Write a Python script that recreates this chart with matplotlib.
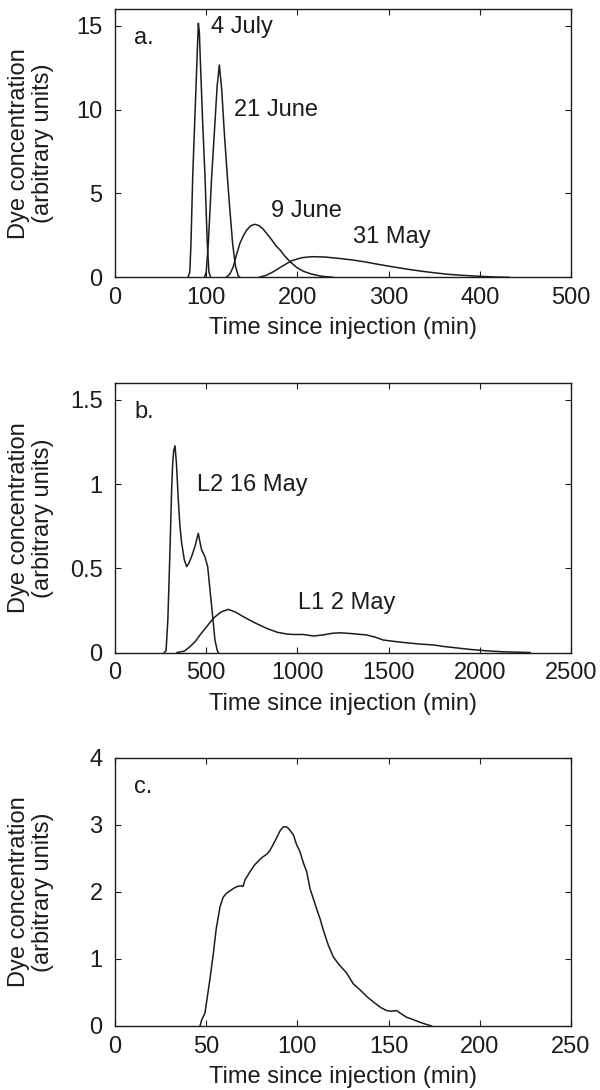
import matplotlib
matplotlib.use("Agg")
import matplotlib.pyplot as plt

plt.rcParams['font.family'] = ['Liberation Sans', 'DejaVu Sans']

# ---- Panel a data ----
jul4_t = [80, 82, 83.3, 85.2, 87, 89, 90.5, 91.4, 92.5, 94, 96, 98.7, 101.2, 103, 105]
jul4_y = [0, 0.3, 2.0, 6.0, 8.7, 11.6, 13.9, 15.15, 14.6, 12.3, 9.4, 6.0, 2.0, 0.3, 0]

jun21_t = [98, 100, 102.3, 106, 109, 112, 114.4, 117, 120, 123.2, 126, 129, 132, 135, 137]
jun21_y = [0, 0.3, 2.0, 6.0, 8.7, 11.4, 12.66, 11.2, 8.5, 6.0, 4.0, 2.0, 0.7, 0.1, 0]

jun9_t = [122, 126, 129.7, 133, 137, 141, 144.4, 149, 153.5, 158, 162, 166.3, 172, 177, 181, 186, 191.9, 199, 206.5, 215, 224.8, 232, 239]
jun9_y = [0, 0.2, 0.63, 1.3, 2.03, 2.5, 2.82, 3.08, 3.16, 3.08, 2.9, 2.62, 2.22, 1.85, 1.63, 1.28, 0.93, 0.6, 0.36, 0.2, 0.08, 0.03, 0]

may31_t = [158, 165, 173.6, 183, 193.7, 205, 215.7, 230, 245, 261, 275, 290, 305, 320, 335, 350, 365, 380, 400, 415, 432]
may31_y = [0, 0.1, 0.33, 0.65, 0.99, 1.17, 1.23, 1.21, 1.13, 1.03, 0.91, 0.76, 0.62, 0.49, 0.37, 0.27, 0.18, 0.12, 0.06, 0.02, 0]

# ---- Panel b data ----
l2_t = [270, 280, 290, 301.5, 310, 316, 322, 329, 337, 347, 356, 365.6, 380, 393, 405, 420, 438.6, 450, 456.8, 465, 475, 493, 508, 521, 535.5, 548, 561, 567]
l2_y = [0, 0.01, 0.2, 0.61, 0.95, 1.12, 1.2, 1.227, 1.12, 0.906, 0.75, 0.649, 0.55, 0.51, 0.53, 0.57, 0.63, 0.68, 0.708, 0.66, 0.609, 0.569, 0.51, 0.37, 0.213, 0.074, 0.01, 0]

l1_t = [340, 380, 411, 440, 466, 500, 539, 580, 621, 660, 703, 760, 832, 890, 941, 977.5, 1032, 1087, 1140, 1190, 1234, 1300, 1380, 1430, 1471, 1560, 1672, 1745, 1800, 1891, 1950, 2038, 2111, 2200, 2275]
l1_y = [0, 0.008, 0.035, 0.065, 0.104, 0.15, 0.203, 0.24, 0.256, 0.24, 0.213, 0.18, 0.143, 0.12, 0.11, 0.107, 0.107, 0.098, 0.104, 0.114, 0.117, 0.112, 0.104, 0.09, 0.074, 0.062, 0.05, 0.045, 0.036, 0.025, 0.018, 0.01, 0.005, 0.002, 0]

# ---- Panel c data ----
c_t = [46.6, 47.5, 49.3, 52, 53.9, 55.5, 57.6, 59.3, 61.2, 64.9, 67, 69.1, 70.2, 71.3, 74, 76.5, 78.6, 81, 83.2, 85, 86.8, 88.5, 90.5, 92.3, 93.8, 95, 97.8, 99.6, 101.4, 103.3, 105.1, 106.9, 108.7, 110.5, 112.4, 114.2, 117, 119.7, 122.4, 125, 127, 130.6, 134.3, 138, 141.6, 143.5, 146, 149, 151.5, 154.4, 157, 159.9, 163, 167.2, 170, 173.6]
c_y = [0, 0.09, 0.19, 0.69, 1.08, 1.45, 1.78, 1.92, 1.98, 2.05, 2.08, 2.09, 2.08, 2.18, 2.3, 2.4, 2.46, 2.52, 2.56, 2.62, 2.71, 2.8, 2.91, 2.97, 2.97, 2.95, 2.85, 2.70, 2.60, 2.43, 2.3, 2.05, 1.9, 1.75, 1.6, 1.43, 1.2, 1.03, 0.93, 0.85, 0.79, 0.63, 0.54, 0.44, 0.36, 0.32, 0.27, 0.23, 0.22, 0.23, 0.18, 0.13, 0.1, 0.055, 0.03, 0]

ylabel = "Dye concentration\n(arbitrary units)"
xlabel = "Time since injection (min)"

ink = "#1c1c1c"
fs = 17

fig = plt.figure(figsize=(6.0, 10.9), dpi=100)
L, R = 115 / 600, 571 / 600
H = 1090
boxes = [(9, 277.3), (383, 652.5), (757.7, 1026)]
axes = []
for top, bot in boxes:
    ax = fig.add_axes([L, 1 - bot / H, R - L, (bot - top) / H])
    axes.append(ax)

def style(ax, xlim, ylim, xticks, yticks, yticklabels=None):
    ax.set_xlim(*xlim)
    ax.set_ylim(*ylim)
    ax.set_xticks(xticks)
    ax.set_yticks(yticks)
    if yticklabels is not None:
        ax.set_yticklabels(yticklabels)
    ax.tick_params(direction='in', top=True, right=True, length=4, width=0.8,
                   labelsize=fs, colors=ink)
    ax.tick_params(axis='x', pad=7)
    ax.tick_params(axis='y', pad=9)
    for s in ax.spines.values():
        s.set_linewidth(1.0)
        s.set_color(ink)
    ax.set_xlabel(xlabel, fontsize=fs, color=ink, labelpad=6)
    ax.set_ylabel(ylabel, fontsize=fs, color=ink, linespacing=1.12)
    ax.yaxis.set_label_coords(-0.134, 0.5)

lw = 1.1
ax = axes[0]
for t, y in [(jul4_t, jul4_y), (jun21_t, jun21_y), (jun9_t, jun9_y), (may31_t, may31_y)]:
    ax.plot(t, y, color=ink, lw=lw)
style(ax, (0, 500), (0, 16), range(0, 501, 100), [0, 5, 10, 15])
ax.text(20.8, 14.27, "a.", fontsize=fs, color=ink, va='center')
ax.text(105.3, 14.94, "4 July", fontsize=fs, color=ink, va='center')
ax.text(130.8, 9.98, "21 June", fontsize=fs, color=ink, va='center')
ax.text(171, 3.97, "9 June", fontsize=fs, color=ink, va='center')
ax.text(260.6, 2.42, "31 May", fontsize=fs, color=ink, va='center')

ax = axes[1]
ax.plot(l2_t, l2_y, color=ink, lw=lw)
ax.plot(l1_t, l1_y, color=ink, lw=lw)
style(ax, (0, 2500), (0, 1.6), range(0, 2501, 500), [0, 0.5, 1, 1.5], ["0", "0.5", "1", "1.5"])
ax.text(104, 1.43, "b.", fontsize=fs, color=ink, va='center')
ax.text(451, 0.995, "L2 16 May", fontsize=fs, color=ink, va='center')
ax.text(1005, 0.292, "L1 2 May", fontsize=fs, color=ink, va='center')

ax = axes[2]
ax.plot(c_t, c_y, color=ink, lw=lw)
style(ax, (0, 250), (0, 4), range(0, 251, 50), [0, 1, 2, 3, 4])
ax.text(10.4, 3.57, "c.", fontsize=fs, color=ink, va='center')

fig.savefig("out.png", dpi=100, facecolor='white')
